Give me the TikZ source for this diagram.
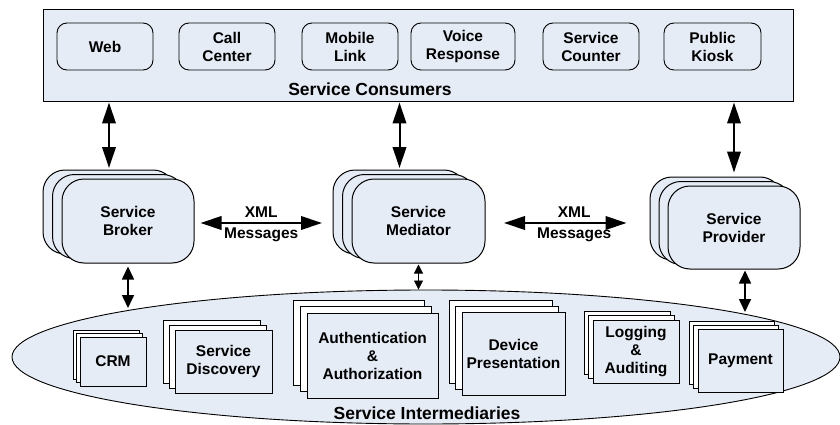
\documentclass[tikz,border=0pt]{standalone}
\usepackage{fontspec}
\setmainfont{Liberation Sans}
\usetikzlibrary{arrows.meta,shapes.geometric}
\definecolor{boxfill}{RGB}{230,236,246}
\newcommand\mystack[9]{%
  \node[#8,#6] (#1b2) at ({#2-2*(#4)},{#3-2*(#5)}) {};
  \node[#8,#6] (#1b1) at ({#2-(#4)},{#3-(#5)}) {};
  \node[#7,#6] (#1) at (#2,#3) {#9};}
\begin{document}
\begin{tikzpicture}[x=1pt,y=-1pt,
  lbl/.style={font=\fontsize{15.5}{18}\selectfont\bfseries, align=center},
  biglbl/.style={font=\fontsize{17.5}{20}\selectfont\bfseries, inner sep=0pt},
  consbox/.style={draw, line width=0.9pt, fill=boxfill, rounded corners=10pt, minimum height=47pt, inner sep=0pt, lbl},
  rbox/.style={draw, line width=1pt, fill=boxfill, rounded corners=22pt, inner sep=0pt, lbl},
  ibox/.style={draw, line width=0.9pt, fill=boxfill, inner sep=0pt, lbl},
  iback/.style={draw, line width=0.9pt, fill=white, inner sep=0pt},
  bigarrow/.style={line width=2pt, {Triangle[length=21pt,width=13.5pt]}-{Triangle[length=21pt,width=13.5pt]}},
  midarrow/.style={line width=1.6pt, {Triangle[length=13pt,width=12pt]}-{Triangle[length=13pt,width=12pt]}},
  smallarrow/.style={line width=0.8pt, {Triangle[length=9pt,width=9pt]}-{Triangle[length=9pt,width=9pt]}},
  xmltxt/.style={font=\fontsize{15.5}{18}\selectfont\bfseries, inner sep=0pt},
]
\useasboundingbox (0,0) rectangle (840,425);

% Service Consumers
\node[draw, line width=1pt, fill=boxfill, minimum width=750pt, minimum height=92pt, inner sep=0pt] (cons) at (418,56) {};
\node[biglbl] (conslbl) at (370,89) {Service Consumers};
\node[consbox, minimum width=96pt] (web) at (105,46.5) {Web};
\node[consbox, minimum width=96pt] (call) at (227,46.5) {Call\\Center};
\node[consbox, minimum width=96pt] (mobile) at (350,46.5) {Mobile\\Link};
\node[consbox, minimum width=104pt] (voice) at (463,46.5) {Voice\\Response};
\node[consbox, minimum width=96pt] (counter) at (591,46.5) {Service\\Counter};
\node[consbox, minimum width=97pt] (kiosk) at (712.5,46.5) {Public\\Kiosk};

% Service Intermediaries
\node[ellipse, draw, line width=0.9pt, fill=boxfill, minimum width=828pt, minimum height=134pt, inner sep=0pt] (ell) at (426,357) {};
\node[biglbl] (elllbl) at (427,413) {Service Intermediaries};

\mystack{crm}{113}{361.5}{3.5}{3.5}{minimum width=66pt,minimum height=49pt}{ibox}{iback}{CRM}
\mystack{disc}{223.5}{361.5}{6}{5}{minimum width=97pt,minimum height=63pt}{ibox}{iback}{Service\\Discovery}
\mystack{auth}{372.5}{355.5}{7}{6.5}{minimum width=131pt,minimum height=85pt}{ibox}{iback}{Authentication\\\&\\Authorization}
\mystack{dev}{513.5}{353.5}{6.5}{6}{minimum width=103pt,minimum height=83pt}{ibox}{iback}{Device\\Presentation}
\mystack{log}{636}{351.5}{4.5}{4.5}{minimum width=86pt,minimum height=63pt}{ibox}{iback}{Logging\\\&\\Auditing}
\mystack{pay}{740.5}{360.5}{4.5}{4}{minimum width=85pt,minimum height=63pt}{ibox}{iback}{Payment}

% Middle tier
\mystack{broker}{128}{221}{9.5}{4.5}{minimum width=132pt,minimum height=84pt}{rbox}{rbox}{Service\\Broker}
\mystack{mediator}{418.5}{221}{9.5}{4.5}{minimum width=133pt,minimum height=84pt}{rbox}{rbox}{Service\\Mediator}
\mystack{provider}{734}{227.5}{9}{4.5}{minimum width=132pt,minimum height=83pt}{rbox}{rbox}{Service\\Provider}

% connectors
\draw[bigarrow, shorten >=1.5pt] (brokerb2.north |- cons.south) -- (brokerb2.north);
\draw[bigarrow, shorten >=1.5pt] (mediatorb2.north |- cons.south) -- (mediatorb2.north);
\draw[bigarrow, shorten >=4pt] (provider.north |- cons.south) -- (provider.north |- providerb2.north);

\coordinate (x1s) at (200,223);
\coordinate (x1e) at (323,223);
\draw[bigarrow] ([xshift=6pt,yshift=-2pt]broker.east) -- ([xshift=-10.5pt,yshift=-2pt]mediatorb2.west |- broker.east)
  node[midway, above=5pt, xmltxt] (xml1) {XML}
  node[midway, below=4pt, xmltxt] (msg1) {Messages};
\draw[bigarrow] ([xshift=18.5pt,yshift=-2pt]mediator.east) -- ([xshift=-23pt,yshift=-2pt]providerb2.west |- mediator.east)
  node[midway, above=5pt, xmltxt, xshift=9pt] (xml2) {XML}
  node[midway, below=4pt, xmltxt, xshift=9pt] (msg2) {Messages};

\coordinate (e1) at (128,308);
\coordinate (e3) at (745,312);
\draw[midarrow, shorten <=3pt] (broker.south) -- (e1);
\draw[smallarrow, shorten <=1pt] (mediator.south) -- (mediator.south |- ell.north);
\draw[midarrow, shorten <=1pt] (provider.south -| e3) -- (e3);
\end{tikzpicture}
\end{document}
